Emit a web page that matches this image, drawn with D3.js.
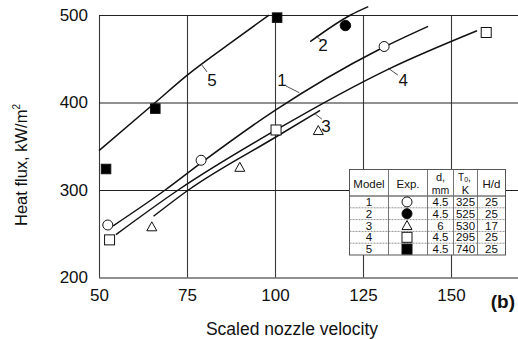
<!DOCTYPE html>
<html>
<head>
<meta charset="utf-8">
<script src="https://cdn.jsdelivr.net/npm/d3@7"></script>
<style>
  html, body { margin: 0; padding: 0; background: #fff; }
  svg { display: block; font-family: "Liberation Sans", Arial, sans-serif; }
</style>
</head>
<body>
<svg id="chart" width="518" height="339"></svg>
<script>
// Axis ticks
const xTicks = [50, 75, 100, 125, 150];
const yTicks = [200, 300, 400, 500];

// Measured points per model: [scaled nozzle velocity, heat flux kW/m2]
const model1Points = [[52.5, 260], [79, 334], [131, 464]];
const model2Points = [[120, 488]];
const model3Points = [[65, 258], [90, 326], [112.3, 368]];
const model4Points = [[53, 243], [100.3, 368.6], [160, 480]];
const model5Points = [[52, 324], [66, 393], [100.6, 497]];

// Model curves
const model1Curve = [[54, 259], [68.8, 300], [79, 331], [100, 391], [129.3, 460], [143.5, 487]];
const model2Curve = [[110, 469.5], [121.5, 500], [126.5, 509.5]];
const model3Curve = [[65.5, 270], [75.4, 300], [100, 360], [112.8, 391]];
const model4Curve = [[54.8, 249], [72.5, 300], [100.3, 368.6], [132.7, 439], [157.4, 482]];
const model5Curve = [[50, 345], [66, 400], [75, 431], [87, 467], [98.3, 500]];

// Curve labels: text, label anchor, leader from, leader to
const curveLabels = ["5", "1", "4", "3", "2"];
const curveLabelAt = [[82.1, 425.7], [102, 425.7], [136.4, 425.7], [114.5, 373], [113.6, 465.7]];
const leaderFrom = [[79, 444], [103.1, 418.9], [132.1, 439.4], [111.4, 386.9], [111.7, 476]];
const leaderTo   = [[80.7, 434.9], [106.9, 411.2], [134.9, 431.4], [113.3, 381.1], [113.1, 471]];

// Legend table
const tableModels = ["1", "2", "3", "4", "5"];
const tableSymbols = ["circleOpen", "circleFilled", "triangleOpen", "squareOpen", "squareFilled"];
const tableD = ["4.5", "4.5", "6", "4.5", "4.5"];
const tableT0 = ["325", "525", "530", "295", "740"];
const tableHd = ["25", "25", "17", "25", "25"];

const svg = d3.select("#chart");
const W = 518;
const x = d3.scaleLinear().domain([50, 150]).range([99, 451]);
const y = d3.scaleLinear().domain([200, 500]).range([277.5, 15]);
const plotLeft = x(50), plotBottom = y(200), plotTop = y(500);

const fontTick = 17;

// Vertical grid + x tick labels
const xAxis = d3.axisBottom(x).tickValues(xTicks)
  .tickSize(-(plotBottom - plotTop)).tickPadding(11.5);
const gx = svg.append("g").attr("transform", `translate(0,${plotBottom})`).call(xAxis);
gx.select(".domain").remove();
gx.selectAll("line").attr("stroke", "#3a3a3a").attr("stroke-width", 1.1);
gx.selectAll("text").attr("font-size", fontTick).attr("fill", "#111")
  .attr("font-family", "Liberation Sans, Arial, sans-serif");

// Horizontal grid + y tick labels (grid runs to the right edge)
const yAxis = d3.axisLeft(y).tickValues(yTicks)
  .tickSize(-(W - plotLeft)).tickPadding(11);
const gy = svg.append("g").attr("transform", `translate(${plotLeft},0)`).call(yAxis);
gy.select(".domain").remove();
gy.selectAll("line").attr("stroke", "#222").attr("stroke-width", 1.1);
gy.selectAll("text").attr("font-size", fontTick).attr("fill", "#111")
  .attr("font-family", "Liberation Sans, Arial, sans-serif");

// Axis titles
svg.append("text").attr("x", 292).attr("y", 335).attr("text-anchor", "middle")
  .attr("font-size", 17.5).attr("fill", "#111").text("Scaled nozzle velocity");

const yTitle = svg.append("text")
  .attr("transform", "translate(27,165) rotate(-90)")
  .attr("text-anchor", "middle").attr("font-size", 16.5).attr("fill", "#111");
yTitle.append("tspan").text("Heat flux, kW/m");
yTitle.append("tspan").attr("font-size", 10).attr("dy", -7).text("2");

svg.append("text").attr("x", 515).attr("y", 308).attr("text-anchor", "end")
  .attr("font-size", 19).attr("font-weight", "bold").attr("fill", "#111").text("(b)");

// Model curves
const line = d3.line().x(d => x(d[0])).y(d => y(d[1])).curve(d3.curveMonotoneX);
[model1Curve, model2Curve, model3Curve, model4Curve, model5Curve].forEach(c => {
  svg.append("path").attr("d", line(c)).attr("fill", "none")
    .attr("stroke", "#111").attr("stroke-width", 1.5);
});

// Curve labels with leaders
curveLabels.forEach((t, i) => {
  svg.append("line")
    .attr("x1", x(leaderFrom[i][0])).attr("y1", y(leaderFrom[i][1]))
    .attr("x2", x(leaderTo[i][0])).attr("y2", y(leaderTo[i][1]))
    .attr("stroke", "#222").attr("stroke-width", 0.8);
  svg.append("text").attr("x", x(curveLabelAt[i][0])).attr("y", y(curveLabelAt[i][1]))
    .attr("text-anchor", "middle").attr("dominant-baseline", "central")
    .attr("font-size", 17).attr("fill", "#111").text(t);
});

// Marker drawing
function marker(g, kind, cx, cy, s) {
  const stroke = "#111";
  if (kind === "circleOpen" || kind === "circleFilled") {
    g.append("circle").attr("cx", cx).attr("cy", cy).attr("r", s * 0.5)
      .attr("fill", kind === "circleFilled" ? "#000" : "#fff")
      .attr("stroke", stroke).attr("stroke-width", 1);
  } else if (kind === "squareOpen" || kind === "squareFilled") {
    g.append("rect").attr("x", cx - s / 2).attr("y", cy - s / 2)
      .attr("width", s).attr("height", s)
      .attr("fill", kind === "squareFilled" ? "#000" : "#fff")
      .attr("stroke", stroke).attr("stroke-width", 1);
  } else {
    const h = s * 0.9;
    g.append("path")
      .attr("d", `M${cx},${cy - h * 0.55}L${cx + s / 2},${cy + h * 0.45}L${cx - s / 2},${cy + h * 0.45}Z`)
      .attr("fill", "#fff").attr("stroke", stroke).attr("stroke-width", 1);
  }
}

const gm = svg.append("g");
model1Points.forEach(p => marker(gm, "circleOpen", x(p[0]), y(p[1]), 10));
model2Points.forEach(p => marker(gm, "circleFilled", x(p[0]), y(p[1]), 10.5));
model3Points.forEach(p => marker(gm, "triangleOpen", x(p[0]), y(p[1]), 10));
model4Points.forEach(p => marker(gm, "squareOpen", x(p[0]), y(p[1]), 10));
model5Points.forEach(p => marker(gm, "squareFilled", x(p[0]), y(p[1]), 9.5));

// Legend table
const tL = 349.5, tR = 505.5, tT = 169.5, tHead = 196, tB = 255;
const colX = [tL, 388.5, 427.5, 453.5, 477.5, tR];
const rowH = (tB - tHead) / tableModels.length;
const gt = svg.append("g");
gt.append("rect").attr("x", tL).attr("y", tT).attr("width", tR - tL).attr("height", tB - tT)
  .attr("fill", "#fff").attr("stroke", "#555").attr("stroke-width", 1);
gt.append("line").attr("x1", tL).attr("x2", tR).attr("y1", tHead).attr("y2", tHead)
  .attr("stroke", "#333").attr("stroke-width", 1);
for (let i = 1; i < tableModels.length; i++) {
  const yy = tHead + i * rowH;
  gt.append("line").attr("x1", tL).attr("x2", tR).attr("y1", yy).attr("y2", yy)
    .attr("stroke", "#777").attr("stroke-width", 0.8).attr("stroke-dasharray", "2,1");
}
colX.slice(1, -1).forEach(cx => {
  gt.append("line").attr("x1", cx).attr("x2", cx).attr("y1", tT).attr("y2", tB)
    .attr("stroke", "#666").attr("stroke-width", 0.9);
});
const colC = colX.slice(0, -1).map((v, i) => (v + colX[i + 1]) / 2);
const fsT = 11.5;
function cell(tx, ty, t, fs) {
  gt.append("text").attr("x", tx).attr("y", ty).attr("text-anchor", "middle")
    .attr("dominant-baseline", "central").attr("font-size", fs || fsT).attr("fill", "#111").text(t);
}
cell(colC[0], 183.5, "Model");
cell(colC[1], 183.5, "Exp.");
cell(colC[2], 177, "d,", 11);
cell(colC[2], 189.5, "mm", 10.5);
const tz = gt.append("text").attr("x", colC[3] - 1).attr("y", 177).attr("text-anchor", "middle")
  .attr("dominant-baseline", "central").attr("font-size", 10).attr("fill", "#111");
tz.append("tspan").text("T");
tz.append("tspan").attr("font-size", 7).attr("dy", 2).text("0");
tz.append("tspan").attr("dy", -2).text(",");
cell(colC[3], 189.5, "K", 11);
cell(colC[4], 183.5, "H/d");
tableModels.forEach((m, i) => {
  const cy = tHead + (i + 0.5) * rowH;
  cell(colC[0], cy, m);
  marker(gt, tableSymbols[i], colC[1] - 1, cy, 10);
  cell(colC[2], cy, tableD[i]);
  cell(colC[3], cy, tableT0[i]);
  cell(colC[4], cy, tableHd[i]);
});
</script>
</body>
</html>
